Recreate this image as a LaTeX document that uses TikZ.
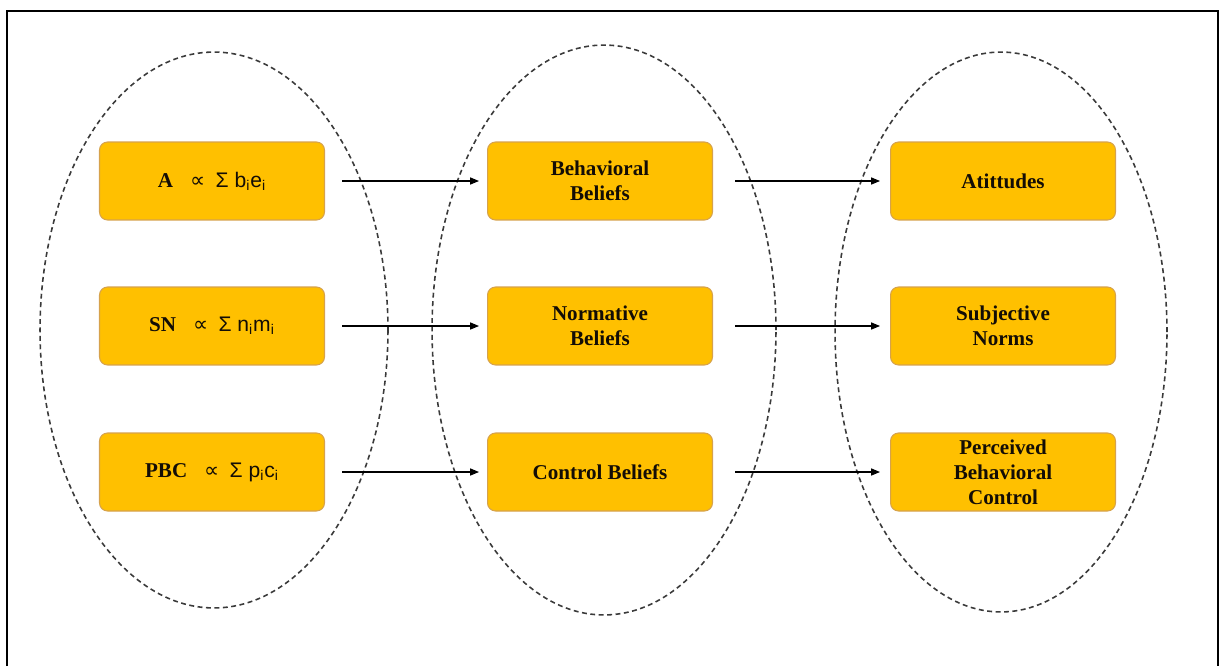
\documentclass[tikz,border=0pt]{standalone}
\usepackage{fontspec}
\setmainfont{Liberation Serif}
\newfontfamily\sansf{Liberation Sans}
\newfontfamily\symf{DejaVu Sans}
\usetikzlibrary{arrows.meta}
\definecolor{boxgold}{HTML}{FFC000}
\definecolor{boxedge}{HTML}{D6A24C}
\definecolor{dashgray}{HTML}{3A3A3A}

\begin{document}
\begin{tikzpicture}[x=0.02cm, y=-0.02cm,
    box/.style = {draw=boxedge, fill=boxgold, rounded corners=0.16cm, minimum width=4.5cm, minimum height=1.56cm, align=center, text=black!90!brown, font=\fontsize{12}{14.3}\selectfont\bfseries, line width=0.6pt},
    link/.style = {-{Triangle[length=5pt,width=4pt]}, line width=0.6pt},
    bubble/.style = {dashgray, dash pattern=on 2.8pt off 2pt, line width=0.9pt}]

    \useasboundingbox (0,0) rectangle (1219,666);
    \draw[line width=1.3pt] (7,666) -- (7,11) -- (1218,11) -- (1218,666);

    % dashed groups
    \draw[bubble] (214,330) ellipse (3.48cm and 5.56cm);
    \draw[bubble] (604,330) ellipse (3.44cm and 5.70cm);
    \draw[bubble] (1001,332) ellipse (3.32cm and 5.60cm);

    % left column
    \node[box] (coefA) at (212,181) {A\hspace{0.8em}{\symf\mdseries ∝}\hspace{0.5em}{\sansf\mdseries Σ b\textsubscript{i}e\textsubscript{i}}};
    \node[box] (coefSN) at (212,326) {SN\hspace{0.8em}{\symf\mdseries ∝}\hspace{0.5em}{\sansf\mdseries Σ n\textsubscript{i}m\textsubscript{i}}};
    \node[box] (coefPBC) at (212,472) {PBC\hspace{0.8em}{\symf\mdseries ∝}\hspace{0.5em}{\sansf\mdseries Σ p\textsubscript{i}c\textsubscript{i}}};

    % middle column
    \node[box] (behBel) at (600,181) {Behavioral\\Beliefs};
    \node[box] (normBel) at (600,326) {Normative\\Beliefs};
    \node[box] (ctrlBel) at (600,472) {Control Beliefs};

    % right column
    \node[box] (att) at (1003,181) {Atittudes};
    \node[box] (subjNorm) at (1003,326) {Subjective\\Norms};
    \node[box] (percCtrl) at (1003,472) {Perceived\\Behavioral\\Control};

    \foreach \src/\dst in {coefA/behBel, coefSN/normBel, coefPBC/ctrlBel} {
        \draw[link, shorten <=0.34cm, shorten >=0.16cm] (\src) -- (\dst);
    } %end foreach

    \foreach \src/\dst in {behBel/att, normBel/subjNorm, ctrlBel/percCtrl} {
        \draw[link, shorten <=0.44cm, shorten >=0.2cm] (\src) -- (\dst);
    } %end foreach

\end{tikzpicture}
\end{document}
